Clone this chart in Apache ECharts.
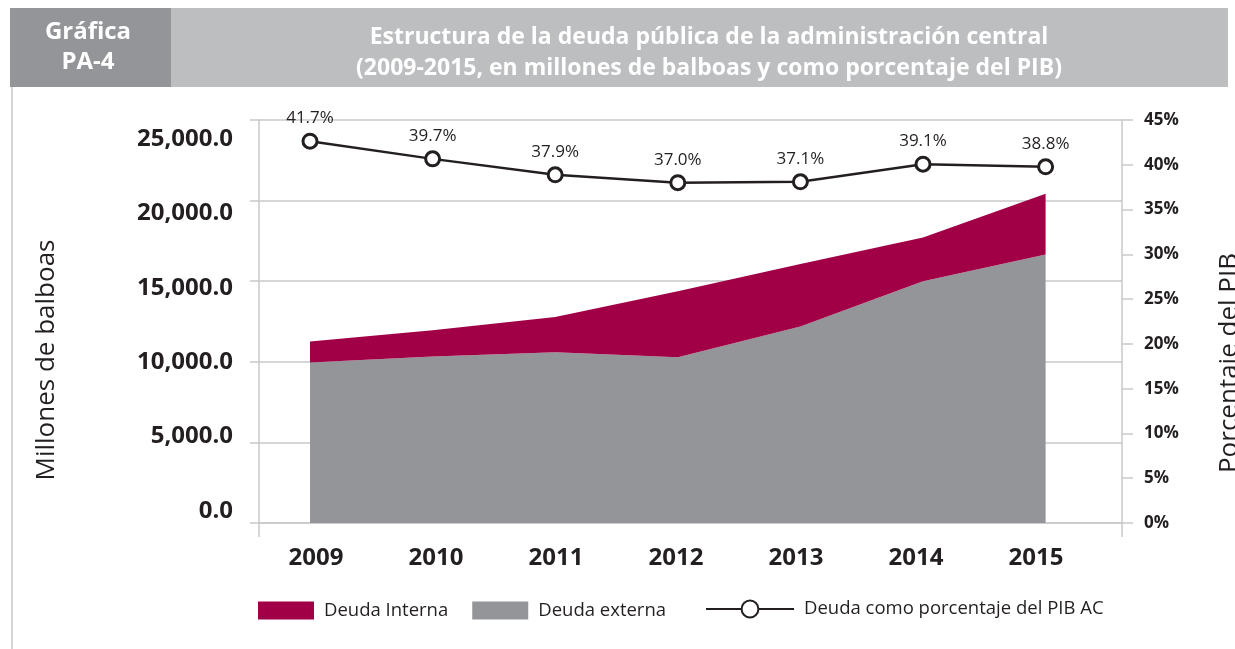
<!DOCTYPE html>
<html><head><meta charset="utf-8">
<script src="https://cdn.jsdelivr.net/npm/echarts@6/dist/echarts.min.js"></script>
<style>html,body{margin:0;padding:0;background:#fff}#c{width:1235px;height:649px}</style>
</head><body><div id="c"></div>
<script>
// ---- data ----
const years = ['2009', '2010', '2011', '2012', '2013', '2014', '2015'];
const deudaExterna = [9950, 10330, 10600, 10290, 12190, 14990, 16650];
const deudaInterna = [1310, 1620, 2180, 4080, 3880, 2720, 3770];
const pctPIB = [41.7, 39.7, 37.9, 37.0, 37.1, 39.1, 38.8];
const leftTicks = [0, 5000, 10000, 15000, 20000, 25000];
const rightTicks = [0, 5, 10, 15, 20, 25, 30, 35, 40, 45];
const seriesNames = ['Deuda Interna', 'Deuda externa', 'Deuda como porcentaje del PIB AC'];
const titleLines = ['Estructura de la deuda pública de la administración central',
  '(2009-2015, en millones de balboas y como porcentaje del PIB)'];
const badge = ['Gráfica', 'PA-4'];
const axisTitles = ['Millones de balboas', 'Porcentaje del PIB'];

// ---- styling ----
const FONT = "'Open Sans', 'Noto Sans', sans-serif";
const INK = '#231f20';
const GRID = '#c9c9cb';
const CRIMSON = '#a10046';
const GRAY = '#949599';

const idx = years.map((_, i) => i);
const fmtThousands = v => Number(v).toLocaleString('en-US', {minimumFractionDigits: 1, maximumFractionDigits: 1});
const NB = 'none';

const chart = echarts.init(document.getElementById('c'), null, {renderer: 'canvas'});
chart.setOption({
  animation: false,
  backgroundColor: '#fff',
  textStyle: {fontFamily: FONT},
  graphic: [
    {type: 'rect', shape: {x: 10, y: 8, width: 161, height: 79}, style: {fill: '#939598'}},
    {type: 'rect', shape: {x: 171, y: 8, width: 1057, height: 79}, style: {fill: '#bcbec0'}},
    {type: 'line', shape: {x1: 12, y1: 87, x2: 12, y2: 649}, style: {stroke: GRID, lineWidth: 1.5}},
    {type: 'text', x: 88, y: 47, style: {text: badge.join('\n'), textAlign: 'center', textVerticalAlign: 'middle',
      fontFamily: FONT, fontWeight: 'bold', fontSize: 24, lineHeight: 30, fill: '#fff'}},
    {type: 'text', x: 709, y: 53, style: {text: titleLines.join('\n'), textAlign: 'center', textVerticalAlign: 'middle',
      fontFamily: FONT, fontWeight: 'bold', fontSize: 23, lineHeight: 31, fill: '#fff'}},
    {type: 'text', x: 47, y: 360, rotation: Math.PI / 2, style: {text: axisTitles[0], textAlign: 'center',
      textVerticalAlign: 'middle', fontFamily: FONT, fontSize: 26, fill: INK}},
    {type: 'text', x: 1230, y: 363, rotation: Math.PI / 2, style: {text: axisTitles[1], textAlign: 'center',
      textVerticalAlign: 'middle', fontFamily: FONT, fontSize: 26, fill: INK}}
  ],
  legend: [
    {data: [seriesNames[0], seriesNames[1]], left: 253, top: 596, itemWidth: 56, itemHeight: 18, itemGap: 24,
      icon: 'rect', textStyle: {fontFamily: FONT, fontSize: 18.5, color: INK, padding: [0, 0, 0, 5]}},
    {data: [seriesNames[2]], left: 700, top: 594.5, itemWidth: 88, itemHeight: 21,
      textStyle: {fontFamily: FONT, fontSize: 18.5, color: INK, padding: [0, 0, 0, 5]}}
  ],
  grid: [
    {left: 259, right: 113, top: 120, bottom: 126, outerBoundsMode: NB},
    {left: 259, right: 113, top: 139, bottom: 138, outerBoundsMode: NB},
    {left: 310, right: 189.4, top: 120, bottom: 126, outerBoundsMode: NB}
  ],
  xAxis: [
    {gridIndex: 0, type: 'value', min: -0.475, max: 6.717, position: 'bottom',
      axisLine: {show: true, onZero: false, lineStyle: {color: GRID, width: 1.5}},
      splitLine: {show: false},
      axisTick: {show: true, customValues: [-0.475, 6.717], length: 14, lineStyle: {color: GRID, width: 1.5}},
      axisLabel: {customValues: idx, formatter: v => years[Math.round(v)], margin: 23,
        fontFamily: FONT, fontSize: 24, fontWeight: 'bold', color: INK}},
    {gridIndex: 1, type: 'value', min: 0, max: 1, show: false},
    {gridIndex: 2, type: 'category', data: years, boundaryGap: false, show: false}
  ],
  yAxis: [
    {gridIndex: 0, type: 'value', position: 'left', min: leftTicks[0], max: leftTicks[leftTicks.length - 1],
      interval: leftTicks[1] - leftTicks[0],
      axisLine: {show: true, onZero: false, lineStyle: {color: GRID, width: 1.5}},
      axisTick: {show: true, length: 9, lineStyle: {color: GRID, width: 1.5}},
      axisLabel: {show: false},
      splitLine: {show: true, lineStyle: {color: GRID, width: 1.5}}},
    {gridIndex: 0, type: 'value', position: 'right', min: rightTicks[0], max: rightTicks[rightTicks.length - 1],
      interval: rightTicks[1] - rightTicks[0],
      axisLine: {show: true, onZero: false, lineStyle: {color: GRID, width: 1.5}},
      axisTick: {show: true, length: 11, lineStyle: {color: GRID, width: 1.5}},
      axisLabel: {formatter: '{value}%', margin: 22, fontFamily: FONT, fontSize: 17, fontWeight: 'bold', color: INK},
      splitLine: {show: false}},
    {gridIndex: 1, type: 'value', position: 'left', min: leftTicks[0], max: leftTicks[leftTicks.length - 1],
      interval: leftTicks[1] - leftTicks[0],
      axisLine: {show: false, onZero: false}, axisTick: {show: false}, splitLine: {show: false},
      axisLabel: {formatter: fmtThousands, margin: 26, fontFamily: FONT, fontSize: 24, fontWeight: 'bold', color: INK}},
    {gridIndex: 2, type: 'value', min: leftTicks[0], max: leftTicks[leftTicks.length - 1], show: false},
    {gridIndex: 2, type: 'value', min: -1.52, max: 44.1, show: false}
  ],
  series: [
    {name: seriesNames[1], type: 'line', xAxisIndex: 2, yAxisIndex: 3, stack: 'deuda',
      data: deudaExterna, symbol: 'none', showSymbol: false,
      lineStyle: {width: 0}, itemStyle: {color: GRAY}, areaStyle: {color: GRAY, opacity: 1}, z: 2},
    {name: seriesNames[0], type: 'line', xAxisIndex: 2, yAxisIndex: 3, stack: 'deuda',
      data: deudaInterna, symbol: 'none', showSymbol: false,
      lineStyle: {width: 0}, itemStyle: {color: CRIMSON}, areaStyle: {color: CRIMSON, opacity: 1}, z: 2},
    {name: seriesNames[2], type: 'line', xAxisIndex: 2, yAxisIndex: 4, clip: false,
      data: pctPIB, symbol: 'circle', symbolSize: 14,
      itemStyle: {color: '#fff', borderColor: INK, borderWidth: 3},
      lineStyle: {color: INK, width: 2.5}, z: 5,
      label: {show: true, position: 'top', distance: 6, formatter: p => p.value.toFixed(1) + '%',
        fontFamily: FONT, fontSize: 17, color: INK}}
  ]
});
</script>
</body></html>
